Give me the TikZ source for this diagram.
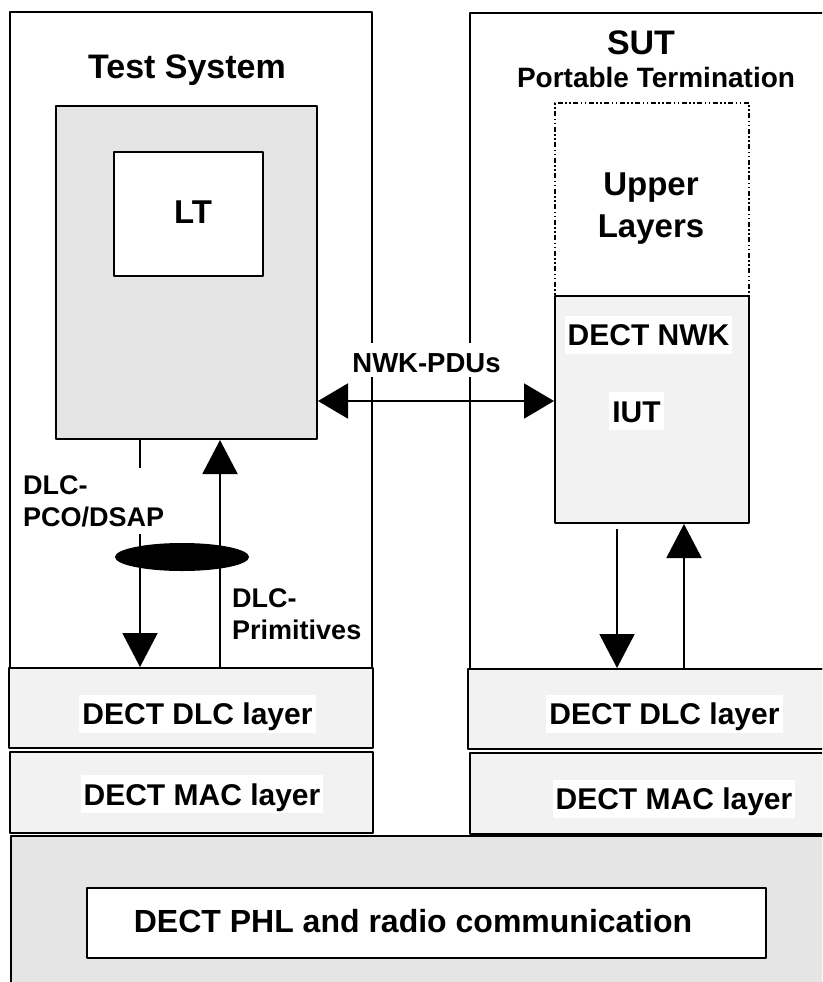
\documentclass[tikz,border=0pt]{standalone}
\usepackage{fontspec}
\setmainfont{Liberation Sans}
\usetikzlibrary{arrows.meta,shapes.geometric}
\tikzset{
  framebox/.style={draw,line width=2pt,inner sep=0pt},
  layerbox/.style={framebox,fill=gray!10},
  tag/.style={fill=white,inner xsep=3pt,inner ysep=2pt,text height=28pt,text depth=6pt},
  bigarrow/.style={line width=2pt,-{Triangle[length=34pt,width=35pt]}},
  txtbig/.style={font=\fontsize{34}{40}\selectfont\bfseries},
  txtmid/.style={font=\fontsize{30}{42}\selectfont\bfseries},
  txtsmall/.style={font=\fontsize{27}{32}\selectfont\bfseries}
}
\begin{document}
\begin{tikzpicture}[x=1pt,y=-1pt,line join=round]
\useasboundingbox (0,0) rectangle (822,982);
\clip (0,0) rectangle (822,982);
% physical layer
\node[framebox,fill=gray!20,minimum width=850pt,minimum height=180pt,anchor=north west] (phy) at (10,835) {};
\node[framebox,fill=white,line width=1.5pt,minimum width=679pt,minimum height=70pt] (phl) at (426.5,923) {};
\node[font=\fontsize{32}{38}\selectfont\bfseries,anchor=base] (phltxt) at (413,932) {DECT PHL and radio communication};
% the two sides
\node[framebox,fill=white,minimum width=362pt,minimum height=656pt] (ts) at (191,340) {};
\node[framebox,fill=white,minimum width=400pt,minimum height=656pt,anchor=north west] (sut) at (469,12) {};
\node[txtbig,anchor=base] (tstitle) at (187,78) {Test System};
\node[txtbig,anchor=base] (suttitle) at (641,55) {SUT};
\node[txtsmall,font=\fontsize{28}{32}\selectfont\bfseries,anchor=base] (pttitle) at (656,87) {Portable Termination};
% DLC and MAC layers
\node[layerbox,minimum width=364pt,minimum height=80pt] (dlcL) at (191,708) {};
\node[layerbox,minimum width=363pt,minimum height=81pt] (macL) at (191.5,792.5) {};
\node[layerbox,minimum width=400pt,minimum height=80pt,anchor=north west] (dlcR) at (467,668) {};
\node[layerbox,minimum width=400pt,minimum height=81pt,anchor=north west] (macR) at (469,752) {};
\node[tag,txtmid] (dlcLtxt) at (197.5,713.5) {DECT DLC layer};
\node[tag,txtmid] (macLtxt) at (202,794) {DECT MAC layer};
\node[tag,txtmid] (dlcRtxt) at (664.5,713.5) {DECT DLC layer};
\node[tag,txtmid] (macRtxt) at (674,798.5) {DECT MAC layer};
% LT
\node[framebox,fill=gray!20,minimum width=261pt,minimum height=333pt] (lt) at (186.5,272.5) {};
\node[framebox,fill=white,minimum width=149pt,minimum height=124pt] (ltin) at (188.5,214) {};
\node[font=\fontsize{33}{38}\selectfont\bfseries,anchor=base] (lttxt) at (193,223) {LT};
% IUT
\node[framebox,dash pattern=on 5pt off 2.5pt on 1.5pt off 2.5pt on 1.5pt off 2.5pt,minimum width=194pt,minimum height=193pt] (upper) at (652,199.5) {};
\node[font=\fontsize{33}{42}\selectfont\bfseries,align=center,anchor=north,inner sep=0pt] (uppertxt) at (651,173) {Upper\\Layers};
\node[layerbox,minimum width=194pt,minimum height=227pt] (nwk) at (652,409.5) {};
\node[tag,txtmid] (nwktxt) at (648.5,334.5) {DECT NWK};
\node[tag,txtmid] (iut) at (636.5,411) {IUT};
% NWK-PDUs
\coordinate (pdu) at ([yshift=39pt]lt.south east);
\draw[line width=2pt,{Triangle[length=30pt,width=35pt]}-{Triangle[length=30pt,width=35pt]}] (pdu) -- (pdu -| nwk.west);
\node[tag,font=\fontsize{27.5}{32}\selectfont\bfseries,text height=27pt,text depth=3pt] (pdutxt) at (426.5,360) {NWK-PDUs};
% DLC primitives, test system side
\coordinate (dnL) at ([xshift=-46.5pt]lt.south);
\coordinate (upL) at ([xshift=33.5pt]lt.south);
\draw[bigarrow] (dnL) -- (dnL |- dlcL.north);
\draw[bigarrow] (upL |- dlcL.north) -- (upL);
\node[txtsmall,align=left,anchor=north west,fill=white,inner sep=7pt] (pco) at (16,468) {DLC-\\PCO/DSAP};
\node[fill=black,ellipse,minimum width=134pt,minimum height=28pt,inner sep=0pt] (sap) at (182,557) {};
\node[txtsmall,align=left,anchor=north west,inner sep=0pt] (prim) at (232,588) {DLC-\\Primitives};
% DLC primitives, SUT side
\coordinate (dnR) at ([xshift=-35pt,yshift=-5pt]nwk.south);
\coordinate (upR) at ([xshift=32pt]nwk.south);
\draw[bigarrow] (dnR) -- (dnR |- dlcR.north);
\draw[bigarrow] (upR |- dlcR.north) -- (upR);
\end{tikzpicture}
\end{document}
